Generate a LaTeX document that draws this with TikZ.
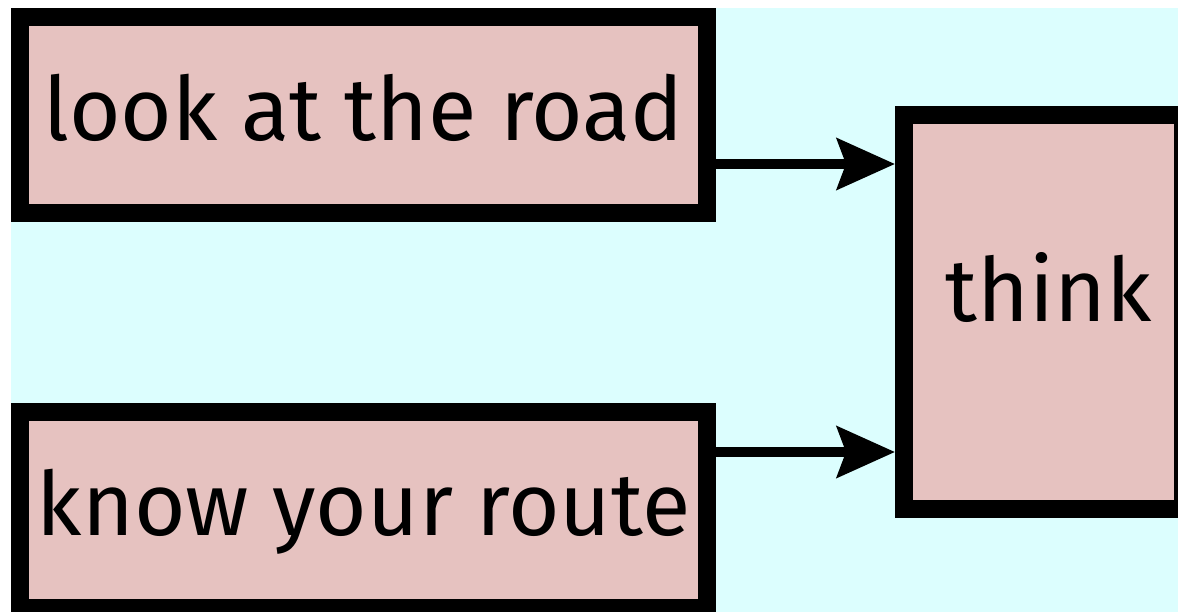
\documentclass[tikz,border=0pt]{standalone}
\usepackage{fontspec}
\setmainfont{Fira Sans}
\usetikzlibrary{arrows.meta}
\definecolor{bgcyan}{HTML}{DCFEFE}
\definecolor{boxpink}{HTML}{E6C2C0}
\tikzset{
  box/.style={draw=black, fill=boxpink, line width=18pt, rectangle,
    inner sep=0pt, font=\fontsize{88.5}{100}\selectfont},
  conn/.style={draw=black, line width=10pt,
    -{Stealth[length=58pt, width=51pt, inset=9pt]}}
}
\begin{document}
\begin{tikzpicture}[x=1pt,y=-1pt]
  \useasboundingbox (0,0) rectangle (1178,611);
  \clip (0,0) rectangle (1178,611);
  \fill[white] (0,0) rectangle (1178,611);
  \fill[bgcyan] (11,8) rectangle (1200,640);
  \node[box, minimum width=687pt, minimum height=196pt,
        text height=60pt, text depth=10pt] (look) at (363.5,115) {look at the road};
  \node[box, minimum width=687pt, minimum height=196pt,
        text height=60pt, text depth=10pt] (know) at (363.5,510) {know your route};
  \node[box, minimum width=279pt, minimum height=394pt,
        text height=60pt, text depth=42pt] (think) at (1043.5,312) {\hspace*{10pt}think};
  \draw[conn] ([yshift=-49pt]look.east) -- ([yshift=-49pt]look.east -| think.west);
  \draw[conn] ([yshift=58pt]know.east) -- ([yshift=58pt]know.east -| think.west);
\end{tikzpicture}
\end{document}
